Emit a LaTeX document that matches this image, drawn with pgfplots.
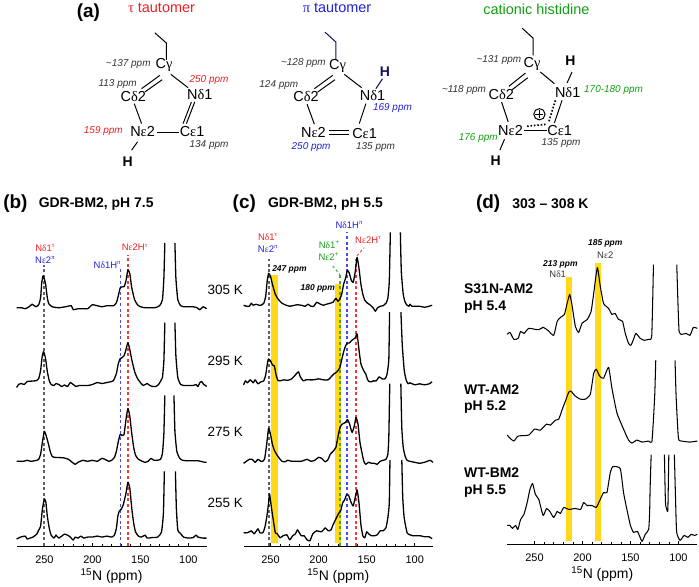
\documentclass[border=0pt]{standalone}
\usepackage{fontspec}
\usepackage{pgfplots}
\pgfplotsset{compat=1.18}
\setmainfont{Liberation Sans}
\newfontfamily\gr{Liberation Serif}
\definecolor{band}{HTML}{FFD91A}
\definecolor{myred}{HTML}{F02020}
\definecolor{myblue}{HTML}{2020E0}
\definecolor{mygreen}{HTML}{10A010}
\definecolor{dashgray}{HTML}{606060}
\definecolor{dashblue}{HTML}{4A4AF0}
\definecolor{dashred}{HTML}{F03A3A}
\definecolor{dashgreen}{HTML}{3CAA3C}
\definecolor{navy}{HTML}{101060}
\newcommand{\fs}[1]{\fontsize{#1}{#1}\selectfont}
\newcommand{\sy}[1]{{\gr #1}}
\newcommand{\su}[1]{\textsuperscript{#1}}
\pgfplotsset{panel/.style={
  scale only axis, height=370pt, ymin=0, ymax=370, clip=false,
  x dir=reverse, axis x line=bottom, axis y line=none,
  x axis line style={-, line width=.9pt},
  xtick={100,150,200,250}, minor x tick num=4, tick align=inside,
  major tick length=3.2pt, minor tick length=2pt,
  tick style={black, line width=.6pt},
  /pgf/number format/assume math mode=true,
  tick label style={font=\fs{11}, yshift=-6.5pt},
  xlabel={\su{15}N (ppm)},
  xlabel style={font=\fs{14}, yshift=2pt},
}}
\newcommand{\tr}[3]{%
  \addplot[black,line width=#1pt,line join=round,smooth,tension=.3,yshift=#2pt] coordinates {#3};}
\newcommand{\band}[3]{%
  \addplot[fill=band,draw=none,forget plot] coordinates {(#1,2.7)(#2,2.7)(#2,#3)(#1,#3)} --cycle;}
\newcommand{\vd}[3]{%
  \addplot[#1,line width=1.4pt,dash pattern=on 3pt off 2.6pt,forget plot] coordinates {(#2,0)(#2,#3)};}
\begin{document}
\begin{tikzpicture}[x=1pt,y=-1pt]
\path (0,0) rectangle (699,585);

% ---------- panel b
\begin{axis}[panel, at={(14.7pt,-547pt)}, anchor=south west, width=190.5pt, xmin=81, xmax=279]
\vd{dashgray}{250.5}{282}
\vd{dashblue}{170.7}{278}
\vd{dashred}{163}{292}
% 305 K
\tr{1.3}{239}{(279,0)(274,0)(270,-1)(266,1)(262.8,3.5)(259,1)(256,3)(254,10)(252.8,25)(251.4,32)(249,25)(247,10)(245.5,4)(242,1)(235,0)(228,1)(222,2)(220,-2)(215,-1)(210,-1)(205,-1)(200,3)(195,2)(190,1)(185,2)(178,2)(175,5)(173,12)(171,20)(169,21)(167,21)(165,27)(163,38)(161,34)(159,20)(156,8)(153,3)(150,1)(145,0)(135,0)(130,2)(127,8)(125.5,30)(124.5,65)}
\tr{1.3}{239}{(114,65)(113,30)(111,8)(108,2)(105,1)(100,1)(95,1)(91,0)(88,-2)(84.5,1)(81,-1)}
% 295 K
\tr{1.3}{161}{(279,-2)(277,1)(274,2)(271,1)(268,4)(262,4.5)(258,5)(256,7)(254,15)(252.5,28)(251,34)(249,28)(247,14)(245,5)(243,1)(240,0)(238,2)(235,1)(232,-1)(229,0.5)(226,-1)(223,3)(220,1)(217,-1)(214,0)(205,0)(200,1)(195,3)(190,2)(185,3)(180,4)(178,5)(175,12)(173,22)(171,27)(169,28)(167,30)(165,36)(163,43)(161,36)(159,26)(156,14)(153,7)(150,3)(147,0)(143,2)(140,0)(137,-1)(134,-1)(131,1)(128,6)(127,8)(125.5,25)(124.5,63)}
\tr{1.3}{161}{(114,63)(113,30)(111,8)(108,1)(105,0)(100,0)(95,0)(92,1)(90,-1)(88,3)(86,4)(84,1)(82,0)(81,-1)}
% 275 K
\tr{1.3}{85}{(279,0)(272,0)(268,1)(264,0)(258,1)(256,2)(254,7)(252,20)(250,30)(248,25)(246,18)(244,10)(242,5)(240,4)(230,3.5)(225,2)(221,-1)(218,-3)(215,-1)(210,1)(205,0)(200,1)(195,0)(190,3)(187,2)(183,0)(180,1)(177,4)(175,10)(173,20)(171,27)(169,26)(167,27)(165,42)(163,53)(161,45)(159,28)(157,14)(155,6)(152,2)(148,0)(145,-1)(142,0)(139,3)(136,1)(133,1)(129,2)(127,8)(125.5,28)(124.5,66)}
\tr{1.3}{85}{(115,66)(114,30)(112,10)(109,3)(106,1)(100,0.5)(90,0.5)(87,0)(83,-1)(81,-1)}
% 255 K
\tr{1.3}{8}{(279,-1)(275,1)(270,2)(268,-1)(265,0)(262,1)(258,4)(256,8)(254,12)(252,30)(250,39)(248.5,36)(247,22)(245,10)(243,3)(240,0)(238,3)(235,0)(232,2)(229,4)(226,3)(223,1)(220,-2)(218,1)(215,0)(212,2)(209,0)(205,1)(200,1)(195,2)(190,1)(185,2)(180,1)(177,3)(175,10)(173.5,22)(172,27)(170,29)(168,33)(165,45)(163,56)(161,50)(159,30)(157,15)(155,6)(152,2)(149,1)(145,3)(143,0)(138,0.5)(132,1)(128,6)(126,25)(125,67)}
\tr{1.3}{8}{(113.5,67)(112.5,30)(111,8)(108.5,5)(105,1)(100,0)(95,0.5)(92,3)(90,1)(85,0)(81,0)}
\end{axis}

% ---------- panel c
\begin{axis}[panel, at={(242.3pt,-547pt)}, anchor=south west, width=190pt, xmin=81, xmax=278]
\band{249.3}{242.4}{271.7}
\band{183}{176.6}{262.7}
\vd{dashgray}{251.7}{288}
\vd{dashgreen}{177.7}{272}
\vd{dashblue}{170.4}{315}
\vd{dashred}{161}{288}
% 305 K
\tr{1.3}{240.5}{(278,1)(275,0)(272,0)(270,3)(268,1)(265,2)(262,1)(260,1)(257,3)(255,10)(253.5,25)(252,33)(250,30)(248,22)(245,12)(242,7)(238,3)(235,1.5)(230,0)(225,1)(222,1.5)(218,1)(214,0)(211,2)(208,0)(205,0)(202,4)(198,2)(195,1)(192,2)(188,3)(185,4)(182,8)(180,5)(178,7)(176,12)(174,22)(172,28)(170,36)(168,33)(166,26)(164,24)(162,34)(160,49)(158,38)(156,22)(154,12)(152,6)(149,3)(146,1)(143,-2)(141,-5)(139,-2)(136,0)(133,0.5)(130,3)(128,8)(126.5,25)(125.4,74)}
\tr{1.3}{240.5}{(115,74)(114,35)(112,12)(110,4)(108,1)(106,0)(105,2)(103,0)(100,0)(95,0)(90,-1)(85,0)(82,1)}
% 295 K
\tr{1.3}{166.7}{(278,-5)(276,-1)(274,-3)(271,0)(268,-3)(266,0)(263,-4)(260,-2)(257,-1)(255,5)(253,18)(252,21)(250,19)(248,15)(246,14)(244,4)(242,-1)(240,-1)(236,0)(232,-0.5)(228,1)(225,4)(221,8)(219,3)(216,-1)(213,0)(210,0)(205,0)(200,1)(195,0)(190,0)(187,3)(184,6)(181,8)(178,12)(176,20)(174,28)(172,34)(170,37)(168,37)(165,40)(162,42)(160,46)(158,30)(156,16)(153,9)(151,6)(149,0)(147,-2)(145,-2)(143,-1)(140,-1)(137,3)(134,1)(131,1)(129,5)(127,20)(126.2,68)}
\tr{1.3}{166.7}{(114.4,68)(113,35)(111,10)(109,0)(107,-4)(105,-3)(100,-5)(95,-4)(90,-5)(85,-4)(82,-2)}
% 275 K
\tr{1.3}{84}{(278,-1)(275,1)(272,3)(269,3)(266,0)(263,3)(260,1)(258,1)(256,4)(254,18)(252,34)(250,28)(248,18)(246,12)(243,7)(240,3)(238,1)(235,0.5)(232,2)(228,1)(225,1)(222,1)(218,1)(212,3)(208,1)(204,2)(200,5)(197,4)(193,0.5)(190,3)(188,8)(185,11)(182,15)(180,25)(178,34)(176,38)(174,39)(172,40)(170,43)(168,39)(166,32)(165,30)(163,36)(161,45)(159,38)(157,20)(155,10)(153,1)(151,-2)(148,0)(145,-1)(142,-1)(139,-2)(136,1)(133,2)(130,3)(128,8)(127,25)(126,79)}
\tr{1.3}{84}{(114.5,79)(113.5,35)(112,15)(110,6)(108,2)(105,1)(100,0)(95,-1)(90,0)(87,1)(84,2)(81,0)}
% 255 K
\tr{1.3}{13.3}{(278,0)(274,0)(270,2)(267,-1)(263,4)(261,0)(258,0)(256,5)(254,15)(252,30)(251,39)(249,25)(247,12)(245,0)(243,-1)(240,-5)(237,-3)(233,-2)(230,-7)(227,-3)(224,-1)(222,3)(218,-3)(215,-3)(212,-7)(209,-8)(206,-1)(202,2)(197,1)(193,5)(190,2)(187,3)(185,8)(182,14)(180,18)(178,21)(177,22)(175,30)(173,33)(171,38)(169,38)(166,30)(164,27)(162,35)(160,43)(158,30)(156,8)(154,-3)(152,-5)(150,1)(148,-1)(145,-3)(142,-3)(139,-2)(136,2)(133,2)(130,5)(128,15)(126.5,30)(125.8,73)}
\tr{1.3}{13.3}{(113.5,73)(112.5,35)(111,15)(108,0)(105,-2)(102,-3)(98,-3)(94,-3)(90,-4)(85,-4)(82,-6)}
\end{axis}

% ---------- panel d
\begin{axis}[panel, at={(506.7pt,-545pt)}, anchor=south west, width=190.6pt, xmin=80.3, xmax=278.4]
\band{216.7}{210.5}{268.3}
\band{187.3}{180.7}{282.3}
% S31N
\tr{1.05}{208.3}{(278.4,2)(275.6,4)(271.5,-3)(267,-2)(264.5,5)(261,3)(256,8)(249,7)(245.5,6.7)(241,9)(236,6)(230,1)(226.4,15)(223,19)(218.8,22)(216,33)(213.3,42)(211,32)(207.4,10)(204,4)(200.5,13)(195,17)(191,25)(188.3,43)(184.5,69)(181.4,50)(178,33)(172.8,28)(169.3,22)(166,23)(162.4,17)(158.2,15)(155.4,3)(152,-7)(149.5,-9)(146.8,-3)(144.3,3)(139.8,-2)(135.7,-4)(131,-3)(128.8,-3)(127.7,2)(126.7,40)(126,72)}
\tr{1.05}{208.3}{(101.7,72)(100.7,40)(99.3,5)(96.5,2)(92,3)(87.9,1)(84.4,9)(80.3,8)}
% WT-AM2
\tr{1.05}{103.3}{(278.4,6)(275.6,3)(271.5,0)(267,5)(256,6)(250,12)(243.8,11)(237.5,17)(233.4,16)(228.2,21)(224.7,22)(221,32)(217.8,40)(214.3,49)(211.9,50)(207.4,45)(202.2,42)(197,42)(191.8,47)(188.3,68)(185.6,72)(182,65)(178,63)(172.8,74)(169.3,53)(164,28)(157.2,12)(152,1)(148.5,-2)(143.3,1)(138,-1)(131,0)(127.7,-1)(126,22)(124.6,48)(123.6,81)}
\tr{1.05}{103.3}{(103.5,81)(102.4,45)(100,3)(96.5,0)(88,-1)(80.3,0)}
% WT-BM2
\tr{1.05}{6.7}{(278.4,12)(275.6,12)(273,9)(269.7,12)(267.3,8)(264.5,18)(261,23)(257.6,35)(254.8,48)(252,54)(249,43)(245.5,38)(241,22)(237.5,29)(234,26)(230,20)(226.4,26)(223,24)(219.5,30)(214.3,28)(207.4,29)(202,28)(198.7,35)(195.3,32)(190,32)(185.6,30)(182,37)(178,45)(174.5,45)(171,65)(168.3,71)(160.6,69)(157.2,45)(153.7,28)(150,12)(146.8,5)(142.6,6)(138,-4)(134.6,3)(131,8)(130,25)(129.4,52)(128.4,83)}
\tr{1.05}{6.7}{(114.6,83)(113.5,35)(112.1,28)(111,28)(110,83)}
\tr{1.05}{6.7}{(104.2,83)(102.8,32)(101.8,5)(98.3,-3)(94,2)(90,0)(87,3)(83,2)(80.3,3)}
\end{axis}

% ---------- panel letters and titles
\node[font=\bfseries\fs{19}] at (86.7,12) {(a)};
\node[font=\bfseries\fs{19}] at (13.5,204) {(b)};
\node[font=\bfseries\fs{19}] at (243,204) {(c)};
\node[font=\bfseries\fs{19}] at (487.5,204) {(d)};
\node[font=\bfseries\fs{14},anchor=west,inner sep=0] at (36.7,204) {GDR-BM2, pH 7.5};
\node[font=\bfseries\fs{14},anchor=west,inner sep=0] at (266.7,204) {GDR-BM2, pH 5.5};
\node[font=\bfseries\fs{14},anchor=west,inner sep=0] at (511.7,204) {303 -- 308 K};

% temperatures
\foreach \t/\y in {305/290,295/361,275/432,255/504}
  \node[font=\fs{13.5},anchor=west,inner sep=0] at (206,\y) {\t{} K};

% panel b labels
\begin{scope}[every node/.style={font=\fs{9.5},inner sep=0}]
\node[text=myred] at (43.3,248.3) {N\sy{δ}1\su{\sy{τ}}};
\node[text=myblue] at (43.3,260) {N\sy{ε}2\su{\sy{π}}};
\node[text=myblue] at (105.7,265) {N\sy{δ}1H\su{\sy{π}}};
\node[text=myred] at (133.3,247.7) {N\sy{ε}2H\su{\sy{τ}}};
% panel c labels
\node[text=myred] at (266.7,237.3) {N\sy{δ}1\su{\sy{τ}}};
\node[text=myblue] at (266.7,249) {N\sy{ε}2\su{\sy{π}}};
\node[text=mygreen] at (328.3,245) {N\sy{δ}1\su{+}};
\node[text=mygreen] at (327.7,256.7) {N\sy{ε}2\su{+}};
\node[text=myblue] at (348.3,225) {N\sy{δ}1H\su{\sy{π}}};
\node[text=myred] at (367.3,240) {N\sy{ε}2H\su{\sy{τ}}};
\node[text=black!80,font=\fs{9.5}] at (557.3,274.7) {N\sy{δ}1};
\node[text=black!80,font=\fs{9.5}] at (605,255) {N\sy{ε}2};
\node[font=\bfseries\itshape\fs{8.5}] at (288.3,269.3) {247 ppm};
\node[font=\bfseries\itshape\fs{8.5}] at (316.7,289) {180 ppm};
\node[font=\bfseries\itshape\fs{8.5}] at (560,264.3) {213 ppm};
\node[font=\bfseries\itshape\fs{8.5}] at (605,244) {185 ppm};
\end{scope}
\draw[dashred,line width=1pt,dash pattern=on 2.5pt off 2.5pt] (356,256) -- (363,248);
\draw[dashgreen,line width=1pt,dash pattern=on 2.5pt off 2.5pt] (331.7,266) -- (339,275);

% panel d labels
\foreach \s/\y in {S31N-AM2/289.3,pH 5.4/307.3,WT-AM2/390,pH 5.2/407.7,WT-BM2/473.3,pH 5.5/491.7}
  \node[font=\bfseries\fs{14},anchor=west,inner sep=0] at (463.3,\y) {\s};

% ---------- structures: top titles
\node[font=\fs{14.5},text=myred] at (160,7.5) {\sy{τ} tautomer};
\node[font=\fs{14.5},text=myblue] at (336,7.5) {\sy{π} tautomer};
\node[font=\fs{14.5},text=mygreen] at (536,8.3) {cationic histidine};

\begin{scope}[line width=1pt, every node/.style={inner sep=0,font=\fs{14.5}}]
% tau: px = 50+zx/3
\begin{scope}[xshift=50pt,x=.3333pt,y=-.3333pt]
\draw (310,97)--(345,128)--(345,178);
\draw (270,265)--(325,225) (280,275)--(332,238);
\draw (358,222)--(410,262);
\draw (420,305)--(395,370) (430,305)--(405,370);
\draw (315,398)--(382,398);
\draw (248,310)--(270,370);
\draw (258,425)--(240,450);
\node at (338,195) {C\sy{γ}};
\node at (245,288) {C\sy{δ}2};
\node at (445,282) {N\sy{δ}1};
\node at (273,395) {N\sy{ε}2};
\node at (422,393) {C\sy{ε}1};
\node[font=\bfseries\fs{14}] at (228,485) {H};
\begin{scope}[every node/.style={inner sep=0,font=\itshape\fs{10},text=black!80}]
\node at (230,190) {\textasciitilde137 ppm};
\node at (198,250) {113 ppm};
\node[text=myred] at (473,238) {250 ppm};
\node[text=myred] at (155,392) {159 ppm};
\node at (473,436) {134 ppm};
\end{scope}
% pi
\draw[navy] (822,95)--(855,125)--(855,178);
\draw (790,265)--(845,225) (800,275)--(852,238);
\draw (880,222)--(932,262);
\draw (835,392)--(895,392) (835,402)--(895,402);
\draw (945,310)--(925,370);
\draw (768,312)--(790,372);
\draw[navy] (975,265)--(995,235);
\node at (860,198) {C\sy{γ}};
\node at (765,290) {C\sy{δ}2};
\node at (965,285) {N\sy{δ}1};
\node at (787,398) {N\sy{ε}2};
\node at (941,399) {C\sy{ε}1};
\node[font=\bfseries\fs{14},text=navy] at (1002,213) {H};
\begin{scope}[every node/.style={inner sep=0,font=\itshape\fs{10},text=black!80}]
\node at (757,187) {\textasciitilde128 ppm};
\node at (683,255) {124 ppm};
\node[text=myblue] at (780,440) {250 ppm};
\node at (974,440) {135 ppm};
\node[text=myblue] at (1025,323) {169 ppm};
\end{scope}
\end{scope}
% cationic: px = 360+zx/3
\begin{scope}[xshift=360pt,x=.3333pt,y=-.3333pt]
\draw (485,83)--(518,113)--(518,165);
\draw (445,258)--(495,218) (455,268)--(502,232);
\draw (540,215)--(582,250);
\draw (620,248)--(635,215);
\draw (605,300)--(582,368);
\draw[line width=1.6pt,dash pattern=on 1.6pt off 1.8pt] (585,300)--(565,365);
\draw[line width=1.6pt,dash pattern=on 1.6pt off 1.8pt] (500,378)--(560,372);
\draw (490,390)--(560,390);
\draw (423,305)--(443,365);
\draw (432,417)--(418,450);
\draw[line width=1pt] (537,342) circle (17);
\draw[line width=1.3pt] (525,342)--(549,342) (537,330)--(537,354);
\node at (515,192) {C\sy{γ}};
\node at (422,282) {C\sy{δ}2};
\node at (622,277) {N\sy{δ}1};
\node at (450,390) {N\sy{ε}2};
\node at (598,390) {C\sy{ε}1};
\node[font=\bfseries\fs{14}] at (630,180) {H};
\node[font=\bfseries\fs{14}] at (405,483) {H};
\begin{scope}[every node/.style={inner sep=0,font=\itshape\fs{10},text=black!80}]
\node at (415,178) {\textasciitilde131 ppm};
\node at (310,270) {\textasciitilde118 ppm};
\node[text=mygreen] at (760,268) {170-180 ppm};
\node[text=mygreen] at (353,415) {176 ppm};
\node at (602,430) {135 ppm};
\end{scope}
\end{scope}
\end{scope}
\end{tikzpicture}
\end{document}
